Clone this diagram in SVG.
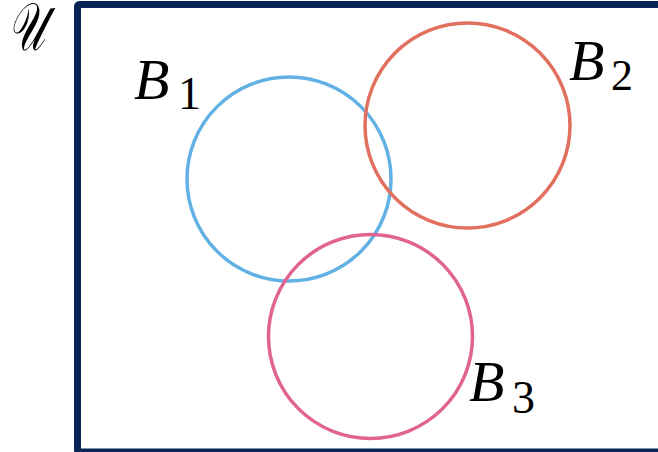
<svg xmlns="http://www.w3.org/2000/svg" width="658" height="452" viewBox="0 0 658 452">
<style>
.lbl{font-family:"Liberation Serif","DejaVu Serif",serif;font-style:italic;fill:#000}
.sub{font-family:"Liberation Serif","DejaVu Serif",serif;fill:#000}
.set{fill:none;stroke-width:3.5}
</style>
<rect x="0" y="0" width="658" height="452" fill="#fff"/>
<g id="universe">
<rect x="77.5" y="4.5" width="620" height="447.5" rx="2" fill="none" stroke="#0b2458" stroke-width="7"/>
<text class="lbl" x="0" y="0" font-size="50" transform="translate(8,50) scale(0.82,1.35)">𝒰</text>
</g>
<g id="B1">
<circle class="set" cx="289" cy="179" r="102" stroke="#62b1e4"/>
<text class="lbl" x="134" y="99" font-size="58">B</text>
<text class="sub" x="178" y="109" font-size="46">1</text>
</g>
<g id="B2">
<circle class="set" cx="467.5" cy="125.5" r="102.5" stroke="#e2705f"/>
<text class="lbl" x="569" y="80" font-size="58">B</text>
<text class="sub" x="611" y="90" font-size="44">2</text>
</g>
<g id="B3">
<circle class="set" cx="370.5" cy="336.5" r="102" stroke="#e06390"/>
<text class="lbl" x="469" y="401" font-size="58">B</text>
<text class="sub" x="512" y="413" font-size="46">3</text>
</g>
</svg>
